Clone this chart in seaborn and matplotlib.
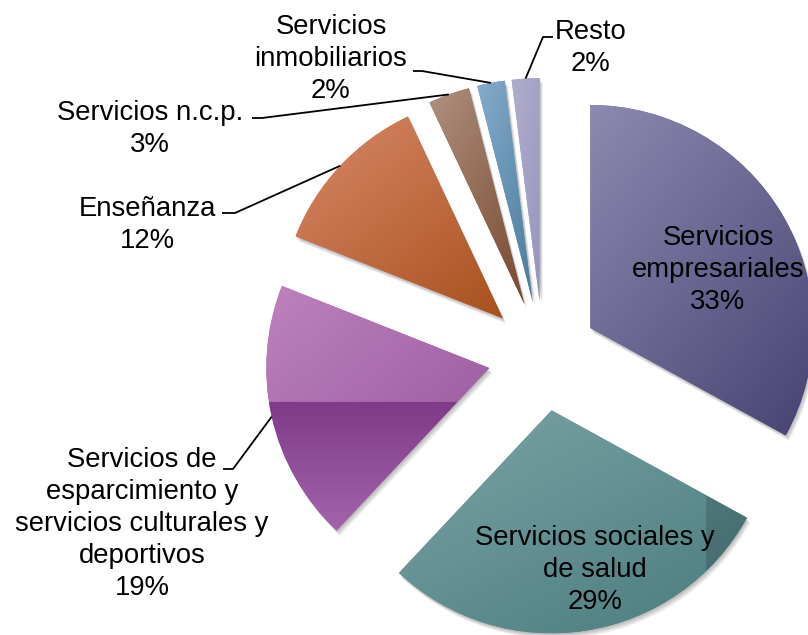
import numpy as np
import matplotlib
matplotlib.use("Agg")
import matplotlib.pyplot as plt
import seaborn as sns
from matplotlib.patches import Wedge
from matplotlib.colors import to_rgb

# ---------------- data ----------------
categories = [
    "Servicios\nempresariales",
    "Servicios sociales y\nde salud",
    "Servicios de\nesparcimiento y\nservicios culturales y\ndeportivos",
    "Enseñanza",
    "Servicios n.c.p.",
    "Servicios\ninmobiliarios",
    "Resto",
]
shares = [33, 29, 19, 12, 3, 2, 2]

# ---------------- style ----------------
light_colors = ["#8c8ab0", "#7ba4a6", "#bd82bd", "#d8896a", "#af9080", "#86abcc", "#b0adcc"]
dark_colors = ["#464372", "#4a7c7e", "#93529a", "#a9501c", "#77492f", "#4a7c9c", "#9795bc"]

sns.set_theme(style="white")
plt.rcParams["font.family"] = ["Liberation Sans", "DejaVu Sans"]

W, H = 808, 635
CX, CY, R = 543, 356, 223          # pie centre / radius (pixels)
EXPLODE = 55 / R
FS = 19.8
LS = 1.31


def px(x, y):
    """pixel position (origin top-left) -> data coords of the pie axes"""
    return (x - CX) / R, (CY - y) / R


fig = plt.figure(figsize=(W / 100, H / 100), dpi=100)
ax = fig.add_axes([0, 0, 1, 1])

mid_colors = [tuple((np.array(to_rgb(a)) + np.array(to_rgb(b))) / 2)
              for a, b in zip(light_colors, dark_colors)]
wedges, _ = ax.pie(shares, explode=[EXPLODE] * len(shares), startangle=90,
                   counterclock=False, radius=1, colors=mid_colors,
                   wedgeprops=dict(linewidth=0))

# soft drop shadows
for w in wedges:
    for k in range(1, 5):
        sh = Wedge((w.center[0] + k * 0.8 / R, w.center[1] - k * 1.3 / R), w.r,
                   w.theta1, w.theta2, facecolor="black", alpha=0.07,
                   linewidth=0, zorder=0.5)
        ax.add_patch(sh)


def gradient_fill(w, c0, c1, kind="diag", n=300):
    bb = w.get_patch_transform().transform_path(w.get_path()).get_extents()
    u = np.linspace(0, 1, n)
    U, V = np.meshgrid(u, u)  # V = 0 at top
    a0, a1 = np.array(to_rgb(c0)), np.array(to_rgb(c1))
    t = np.clip((0.8 * U + V) / 1.8, 0, 1)
    rgb = (1 - t)[..., None] * a0 + t[..., None] * a1
    if kind == "split":
        ys = px(0, 402)[1]
        vs = (bb.y1 - ys) / (bb.y1 - bb.y0)
        lo = V > vs
        tl = np.clip((V - vs) / (1 - vs), 0, 1)
        b0, b1 = np.array(to_rgb("#7f3a88")), np.array(to_rgb("#a464ac"))
        low = (1 - tl)[..., None] * b0 + tl[..., None] * b1
        rgb[lo] = low[lo]
    if kind == "band":
        xb = px(706, 0)[0]
        ub = (xb - bb.x0) / (bb.x1 - bb.x0)
        yb = px(0, 575)[1]
        vb = (bb.y1 - yb) / (bb.y1 - bb.y0)
        m = (U > ub) & (V < vb)
        rgb[m] = rgb[m] * 0.84
    im = ax.imshow(rgb, extent=(bb.x0, bb.x1, bb.y0, bb.y1), origin="upper",
                   interpolation="bilinear", aspect="auto", zorder=1.5)
    im.set_clip_path(w)


kinds = ["diag", "band", "split", "diag", "diag", "diag", "diag"]
for w, c0, c1, k in zip(wedges, light_colors, dark_colors, kinds):
    gradient_fill(w, c0, c1, k)

# ---------------- labels ----------------
label_pos = [(718, 270), (595, 570), (142, 524), (147, 225), (150, 129), (331, 59), (591, 48)]
shoulders = [None, None, ((223, 469), (233, 469)), ((222, 213), (235, 213)),
             ((252, 118), (262, 118)), ((413, 71), (422, 71)), ((553, 37), (543, 37))]

for w, name, val, pos, sh in zip(wedges, categories, shares, label_pos, shoulders):
    x, y = px(*pos)
    ax.text(x, y, f"{name}\n{val}%", ha="center", va="center", fontsize=FS,
            linespacing=LS, color="black", zorder=3)
    if sh is not None:
        tm = np.deg2rad((w.theta1 + w.theta2) / 2)
        ex = w.center[0] + w.r * np.cos(tm)
        ey = w.center[1] + w.r * np.sin(tm)
        p1, p2 = px(*sh[0]), px(*sh[1])
        ax.plot([p1[0], p2[0], ex], [p1[1], p2[1], ey], color="black", lw=1.3,
                zorder=3, solid_capstyle="butt")

x0, y1 = px(0, 0)
x1, y0 = px(W, H)
ax.set_xlim(x0, x1)
ax.set_ylim(y0, y1)
ax.set_aspect("equal", adjustable="box")
ax.axis("off")

fig.savefig("out.png", dpi=100, facecolor="white")
